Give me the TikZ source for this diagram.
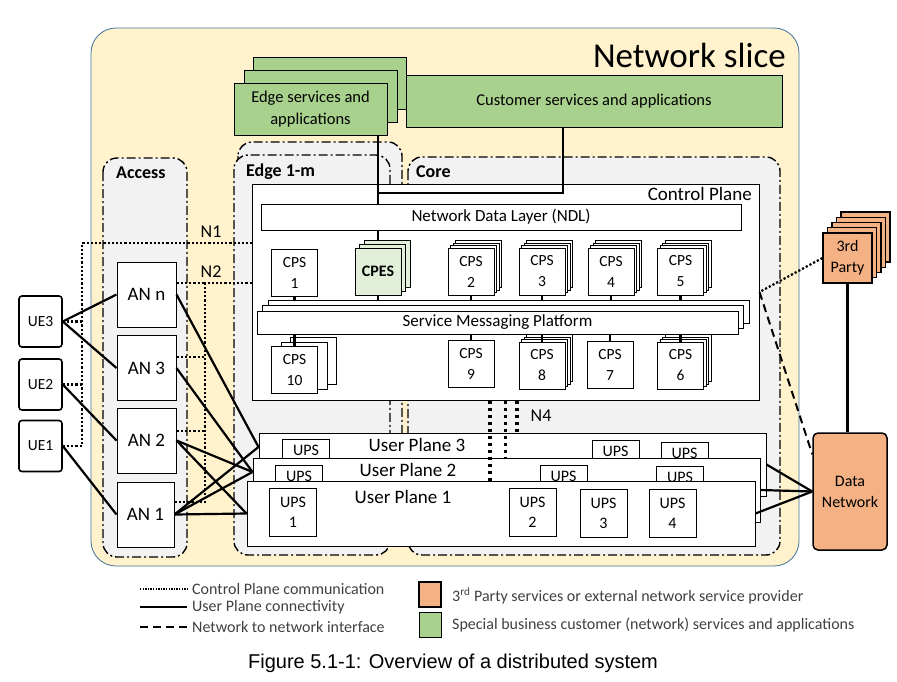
\documentclass[tikz,border=0pt]{standalone}
\usepackage{fontspec}
\setmainfont{Carlito}
\newfontfamily\arialfont{Liberation Sans}
\usetikzlibrary{calc,shadows}
\tikzset{>=latex}
\definecolor{slicefill}{RGB}{255,242,204}
\definecolor{sliceline}{RGB}{65,113,156}
\definecolor{zonefill}{RGB}{242,242,242}
\definecolor{svcgreen}{RGB}{169,209,142}
\definecolor{cpesgreen}{RGB}{226,240,217}
\definecolor{extorange}{RGB}{244,177,131}
\definecolor{legendgrey}{RGB}{64,64,64}
\tikzstyle{slice}=[draw=sliceline,fill=slicefill,line width=0.8pt,rounded corners=25pt]
\tikzstyle{zonebox}=[draw,fill=zonefill,line width=1.4pt,rounded corners=14pt,dash pattern=on 9pt off 3pt on 2pt off 3pt]
\tikzstyle{zonelbl}=[anchor=west,inner sep=0pt,font=\fontsize{18}{22}\selectfont\bfseries]
\tikzstyle{plane}=[rectangle,draw,fill=white,line width=1pt,inner sep=0pt,font=\fontsize{17}{20}\selectfont]
\tikzstyle{planelbl}=[inner sep=0pt,font=\fontsize{19}{22}\selectfont]
\tikzstyle{service}=[rectangle,draw,fill=svcgreen,line width=1pt,inner sep=0pt,align=center,font=\fontsize{16.5}{22}\selectfont]
\tikzstyle{func}=[rectangle,draw,fill=white,line width=1pt,inner sep=0pt,minimum width=46pt,minimum height=47pt,align=center,font=\fontsize{15.5}{21}\selectfont]
\tikzstyle{ups}=[rectangle,draw,fill=white,line width=1pt,inner sep=0pt,minimum width=47pt,minimum height=48pt,align=center,font=\fontsize{16}{20}\selectfont]
\tikzstyle{access}=[rectangle,draw,fill=white,line width=1pt,inner sep=0pt,minimum width=59pt,minimum height=65pt,font=\fontsize{19}{22}\selectfont]
\tikzstyle{ue}=[rectangle,draw,fill=white,line width=1.6pt,rounded corners=3pt,inner sep=0pt,minimum width=43pt,minimum height=51pt,font=\fontsize{15.5}{18}\selectfont]
\tikzstyle{external}=[rectangle,draw,fill=extorange,line width=1.1pt,inner sep=0pt,align=center,font=\fontsize{16}{21}\selectfont]
\tikzstyle{ifacelbl}=[inner sep=0pt,font=\fontsize{18}{22}\selectfont]
\tikzstyle{legend}=[anchor=west,inner sep=0pt,text=legendgrey,font=\fontsize{16}{20}\selectfont]
\tikzstyle{stackfour}=[copy shadow={shadow xshift=7.5pt,shadow yshift=7.5pt,fill=white,draw=black},
  copy shadow={shadow xshift=5pt,shadow yshift=5pt,fill=white,draw=black},
  copy shadow={shadow xshift=2.5pt,shadow yshift=2.5pt,fill=white,draw=black}]
\tikzstyle{stackwide}=[copy shadow={shadow xshift=19pt,shadow yshift=9pt,fill=white,draw=black},
  copy shadow={shadow xshift=9.5pt,shadow yshift=4.5pt,fill=white,draw=black}]
\tikzstyle{stackcpes}=[copy shadow={shadow xshift=9pt,shadow yshift=8pt,fill=cpesgreen,draw=black},
  copy shadow={shadow xshift=4.5pt,shadow yshift=4pt,fill=cpesgreen,draw=black}]
\tikzstyle{stacksmp}=[copy shadow={shadow xshift=11pt,shadow yshift=11pt,fill=white,draw=black},
  copy shadow={shadow xshift=5.5pt,shadow yshift=5.5pt,fill=white,draw=black}]
\tikzstyle{stackedge}=[copy shadow={shadow xshift=19pt,shadow yshift=26pt,fill=svcgreen,draw=black},
  copy shadow={shadow xshift=10pt,shadow yshift=13pt,fill=svcgreen,draw=black}]
\tikzstyle{stackparty}=[copy shadow={shadow xshift=18pt,shadow yshift=21pt,fill=extorange,draw=black},
  copy shadow={shadow xshift=13.5pt,shadow yshift=15.75pt,fill=extorange,draw=black},
  copy shadow={shadow xshift=9pt,shadow yshift=10.5pt,fill=extorange,draw=black},
  copy shadow={shadow xshift=4.5pt,shadow yshift=5.25pt,fill=extorange,draw=black}]
\tikzstyle{link}=[line width=2.2pt]
\tikzstyle{upline}=[line width=2.2pt]
\tikzstyle{cpline}=[line width=2.2pt,dash pattern=on 2.2pt off 2pt]
\tikzstyle{nniline}=[line width=2pt,dash pattern=on 8pt off 5pt]
\tikzstyle{nfour}=[line width=3.5pt,dash pattern=on 3.5pt off 3.5pt]

\begin{document}
\begin{tikzpicture}[x=1pt,y=-1pt]
	\useasboundingbox (0,0) rectangle (897,681);
	% network slice and domains
	\draw[slice] (91,28) rectangle (799,566);
	\node[anchor=east,inner sep=0pt,font=\fontsize{35}{40}\selectfont] (slicelbl) at (786,55) {Network slice};
	\draw[zonebox] (103,158) rectangle (187,557);
	\draw[zonebox] (238,142) rectangle (402,542);
	\draw[zonebox] (234,155) rectangle (390,555);
	\draw[zonebox] (408,157) rectangle (780,555);
	\node[zonelbl] (accesslbl) at (116,173) {Access};
	\node[zonelbl] (edgelbl) at (246,172) {Edge 1-m};
	\node[zonelbl] (corelbl) at (416,172) {Core};
	
	% services
	\node[service,stackedge,minimum width=153pt,minimum height=52pt] (edgesvc) at (310.5,109) {Edge services and\\applications};
	\node[service,minimum width=376pt,minimum height=52pt] (custsvc) at (594,101) {Customer services and applications};
	
	% control plane
	\node[plane,minimum width=507pt,minimum height=216pt] (cp) at (505.5,292) {};
	\node[planelbl,anchor=east] (cplbl) at (752,194) {Control Plane};
	\node[plane,minimum width=480pt,minimum height=26pt] (ndl) at (501,217) {Network Data Layer (NDL)};
	\node[plane,stacksmp,minimum width=481pt,minimum height=23pt] (smp) at (497.5,322.5) {Service Messaging Platform};
	\coordinate (smptop) at ([yshift=11pt]smp.north);
	\node[func] (cps1) at (294.5,272.5) {CPS\\1};
	\node[func,stackcpes,fill=cpesgreen,font=\fontsize{16}{20}\selectfont\bfseries] (cpes) at (378,271.5) {CPES};
	\node[func,stackfour] (cps2) at (471,271.5) {CPS\\2};
	\node[func,stackfour] (cps3) at (542,271.5) {CPS\\3};
	\node[func,stackfour] (cps4) at (611,271.5) {CPS\\4};
	\node[func,stackfour] (cps5) at (680.5,271.5) {CPS\\5};
	\node[func,stackwide] (cps10) at (294.5,370) {CPS\\10};
	\node[func] (cps9) at (471,363.5) {CPS\\9};
	\node[func,stackfour] (cps8) at (542,365.5) {CPS\\8};
	\node[func] (cps7) at (610,364.5) {CPS\\7};
	\node[func,stackfour] (cps6) at (680.5,365.5) {CPS\\6};
	
	\draw[link] (edgesvc.south -| cpes) -- (ndl.north -| cpes);
	\coordinate (csbus) at (563,193);
	\draw[link] (custsvc.south -| csbus) -- (csbus) -- (csbus -| cpes);
	\draw[link] (ndl.south -| cpes) -- ([yshift=8pt]cpes.north);
	\draw[link] (cps1.south) -- (cps1.south |- smptop);
	\draw[link] (cpes.south) -- (cpes.south |- smptop);
	\draw[link] (cps2.south) -- (cps2.south |- smptop);
	\draw[link] (cps3.south) -- (cps3.south |- smptop);
	\draw[link] (cps4.south) -- (cps4.south |- smptop);
	\draw[link] (cps5.south) -- (cps5.south |- smptop);
	\draw[link] (smp.south -| cps10) -- (cps10.north);
	\draw[link] (smp.south -| cps9) -- (cps9.north);
	\draw[link] (smp.south -| cps8) -- (cps8.north);
	\draw[link] (smp.south -| cps7) -- (cps7.north);
	\draw[link] (smp.south -| cps6) -- (cps6.north);
	
	% user planes
	\node[plane,minimum width=507pt,minimum height=63pt] (up3) at (512.5,464.5) {};
	\node[planelbl] (up3lbl) at (417,445) {User Plane 3};
	\node[ups] (ups3a) at (306,463) {UPS\\\strut};
	\node[ups] (ups3b) at (615.5,464) {UPS\\\strut};
	\node[ups] (ups3c) at (684.5,466) {UPS\\\strut};
	\node[plane,minimum width=507pt,minimum height=64pt] (up2) at (506.5,490) {};
	\node[planelbl] (up2lbl) at (408,470) {User Plane 2};
	\node[ups] (ups2a) at (299,489) {UPS\\\strut};
	\node[ups] (ups2b) at (563.5,489) {UPS\\\strut};
	\node[ups] (ups2c) at (680,490) {UPS\\\strut};
	\node[plane,minimum width=508pt,minimum height=65pt] (up1) at (501,513.5) {};
	\node[planelbl] (up1lbl) at (403,497) {User Plane 1};
	\node[ups] (ups1) at (293,512) {UPS\\1};
	\node[ups] (ups2) at (532.5,512) {UPS\\2};
	\node[ups] (ups3) at (603.5,513) {UPS\\3};
	\node[ups] (ups4) at (672.5,513.5) {UPS\\4};
	
	\draw[nfour] ([xshift=-15.5pt]cp.south) -- ([xshift=-15.5pt]cp.south |- up1.north);
	\draw[nfour] (cp.south) -- (cp.south |- up2.north);
	\draw[nfour] ([xshift=11.5pt]cp.south) -- ([xshift=11.5pt]cp.south |- up3.north);
	\node[ifacelbl] (n4lbl) at (541,416) {N4};
	
	% access nodes and user equipment
	\node[access] (ann) at (146.5,294.5) {AN n};
	\node[access] (an3) at (146.5,368) {AN 3};
	\node[access] (an2) at (146.5,440.5) {AN 2};
	\node[access,minimum width=57pt] (an1) at (145.5,514.5) {AN 1};
	\node[ue] (ue3) at (40.5,321.5) {UE3};
	\node[ue] (ue2) at (40.5,384.5) {UE2};
	\node[ue] (ue1) at (40.5,446) {UE1};
	
	\coordinate (n1c) at (82,243);
	\coordinate (n2c) at (205,283);
	\draw[cpline] (ue1.east) -| (n1c) -- (n1c -| cp.west);
	\draw[cpline] (ue2.east) -- (ue2.east -| n1c);
	\draw[cpline] (ue3.east) -- (ue3.east -| n1c);
	\draw[cpline] ([yshift=12.5pt]an1.east) -| (n2c) -- (n2c -| cp.west);
	\draw[cpline] (ann.east |- n2c) -- (n2c);
	\draw[cpline] ([yshift=11pt]an3.east) -- ([yshift=11pt]an3.east -| n2c);
	\draw[cpline] ([yshift=9.5pt]an2.east) -- ([yshift=9.5pt]an2.east -| n2c);
	\node[ifacelbl] (n1lbl) at (211,232) {N1};
	\node[ifacelbl] (n2lbl) at (211,272) {N2};
	
	\coordinate (up3in) at ([yshift=17.5pt]up3.west);
	\coordinate (up2in) at ([yshift=18pt]up2.west);
	\draw[upline] (ue3.east) -- (ann.west);
	\draw[upline] (ue3.east) -- (an3.west);
	\draw[upline] (ue2.east) -- (an2.west);
	\draw[upline] (ue1.east) -- (an1.west);
	\draw[upline] (ann.east) -- (up3in);
	\draw[upline] (an3.east) -- (up2in);
	\draw[upline] (an2.east) -- (up2in);
	\draw[upline] (an2.east) -- (up1.west);
	\draw[upline] (an1.east) -- (up3in);
	\draw[upline] (an1.east) -- (up2in);
	\draw[upline] (an1.east) -- (up1.west);
	
	% external network
	\node[external,rounded corners=5pt,line width=1.5pt,minimum width=74pt,minimum height=117pt] (dn) at (850,491.5) {Data\\Network};
	\node[external,stackparty,minimum width=49pt,minimum height=50pt] (third) at (847.5,258) {3rd\\Party};
	\draw[upline] (up3.east) -- (dn.west);
	\draw[upline] (up2.east) -- (dn.west);
	\draw[upline] (up1.east) -- (dn.west);
	\draw[upline] (third.south) -- (third.south |- dn.north);
	\draw[cpline] (third.west) -- (cp.east);
	\draw[nniline] (cp.east) -- ([yshift=-22pt]dn.north west);
	
	% legend
	\node[legend] (lgcp) at (192,589) {Control Plane communication};
	\node[legend] (lgup) at (192,607) {User Plane connectivity};
	\node[legend] (lgnni) at (192,627) {Network to network interface};
	\draw[cpline,line width=1.3pt,dash pattern=on 1.3pt off 1.3pt] ([xshift=-52pt]lgcp.west) -- ([xshift=-5pt]lgcp.west);
	\draw[upline,line width=1.5pt] ([xshift=-52pt]lgup.west) -- ([xshift=-5pt]lgup.west);
	\draw[nniline,line width=1.6pt,dash pattern=on 8pt off 5pt] ([xshift=-52pt]lgnni.west) -- ([xshift=-5pt]lgnni.west);
	\node[external,minimum width=22pt,minimum height=25pt] (lgext) at (430,594.5) {};
	\node[service,minimum width=22pt,minimum height=25pt] (lgsvc) at (430,624.5) {};
	\node[legend] (lgextlbl) at (452,596) {3\textsuperscript{rd} Party services or external network service provider};
	\node[legend] (lgsvclbl) at (452,625) {Special business customer (network) services and applications};
	\node[inner sep=0pt,font=\arialfont\fontsize{20}{24}\selectfont] (caption) at (453,663) {Figure 5.1-1: Overview of a distributed system};
\end{tikzpicture}
\end{document}
